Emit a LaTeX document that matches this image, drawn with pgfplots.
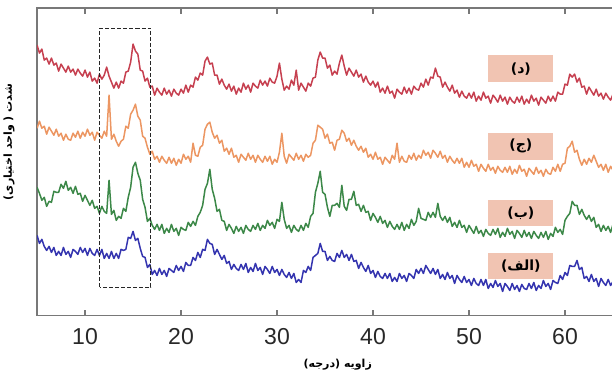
\documentclass[border=0pt]{standalone}
\usepackage{pgfplots}
\usepackage{pgfplotstable}
\pgfplotsset{compat=1.18}
\usepackage{fontspec}
\setmainfont{Liberation Sans}
\newfontfamily\arabicfont[Script=Arabic]{DejaVu Sans}
\TeXXeTstate=1
\definecolor{cred}{RGB}{198,64,80}
\definecolor{corange}{RGB}{236,150,98}
\definecolor{cgreen}{RGB}{60,136,72}
\definecolor{cblue}{RGB}{52,52,175}
\definecolor{boxpink}{RGB}{241,196,178}
\definecolor{axgray}{RGB}{120,120,120}
\definecolor{txtgray}{RGB}{40,40,40}

\pgfplotstableread{
x r o g b
5.00 270 187 128 80
5.25 262 194 122 72
5.50 266 187 115 76
5.75 255 189 118 69
6.00 257 181 109 65
6.25 251 188 114 69
6.50 257 184 113 63
6.75 250 180 124 68
7.00 252 186 123 60
7.25 244 179 123 64
7.50 251 182 131 60
7.75 247 175 127 68
8.00 243 181 134 61
8.25 249 176 125 64
8.50 243 175 128 58
8.75 246 182 122 66
9.00 240 178 129 64
9.25 246 184 121 61
9.50 242 177 122 68
9.75 239 183 114 63
10.00 245 179 120 67
10.25 238 186 115 60
10.50 243 180 110 67
10.75 234 183 115 62
11.00 237 175 107 60
11.25 232 183 109 66
11.50 241 180 102 60
11.75 236 177 109 66
12.00 240 184 104 57
12.25 248 179 102 62
12.50 239 220 135 57
12.75 233 176 101 64
13.00 227 181 105 57
13.25 233 174 95 62
13.50 227 169 99 57
13.75 234 174 97 66
14.00 232 176 107 65
14.25 243 189 104 66
14.50 244 187 118 78
14.75 253 201 128 77
15.00 271 205 148 84
15.25 264 211 153 75
15.50 261 199 142 77
15.75 245 195 135 67
16.00 244 179 116 59
16.25 234 177 108 58
16.50 237 168 94 48
16.75 228 161 97 51
17.00 229 164 90 41
17.25 220 156 86 45
17.50 227 159 91 40
17.75 223 153 85 47
18.00 220 159 91 41
18.25 227 155 82 45
18.50 221 152 87 39
18.75 225 158 83 47
19.00 219 152 91 45
19.25 226 157 84 43
19.50 222 150 87 50
19.75 220 156 80 45
20.00 226 152 88 49
20.25 222 161 86 44
20.50 230 156 85 53
20.75 223 159 93 50
21.00 230 153 89 50
21.25 228 172 94 58
21.50 238 160 90 55
21.75 235 159 99 63
22.00 242 168 103 58
22.25 240 170 110 66
22.50 254 186 126 65
22.75 258 191 132 76
23.00 251 193 146 72
23.25 252 183 126 71
23.50 240 177 117 61
23.75 240 180 104 66
24.00 231 172 106 61
24.25 236 175 95 56
24.50 230 164 94 60
24.75 226 167 85 52
25.00 231 161 91 54
25.25 224 167 87 46
25.50 229 158 82 51
25.75 221 160 89 47
26.00 227 153 84 45
26.25 223 161 88 51
26.50 232 158 82 46
26.75 226 155 90 52
27.00 230 162 86 43
27.25 223 156 84 48
27.50 232 160 90 44
27.75 229 153 86 52
28.00 227 160 92 45
28.25 235 156 85 48
28.50 230 153 90 41
28.75 234 159 87 49
29.00 229 154 95 46
29.25 237 159 90 42
29.50 233 151 93 49
29.75 232 156 87 43
30.00 239 153 96 46
30.25 252 163 94 40
30.50 236 182 113 46
30.75 225 159 96 41
31.00 229 152 87 38
31.25 226 161 90 43
31.50 235 158 83 37
31.75 230 155 90 42
32.00 245 162 86 33
32.25 225 156 84 36
32.50 232 160 90 33
32.75 228 154 85 45
33.00 224 161 92 43
33.25 232 158 88 49
33.50 229 160 99 45
33.75 237 172 102 58
34.00 238 175 123 60
34.25 255 190 132 62
34.50 263 188 144 72
34.75 257 186 123 64
35.00 257 177 121 64
35.25 247 181 108 55
35.50 250 172 99 59
35.75 240 173 110 55
36.00 244 165 110 54
36.25 241 175 112 62
36.50 252 176 108 58
36.75 260 185 130 65
37.00 249 182 109 58
37.25 240 174 105 61
37.50 247 177 116 55
37.75 243 170 116 61
38.00 239 175 124 54
38.25 245 169 110 55
38.50 238 165 111 47
38.75 241 169 104 53
39.00 233 163 110 48
39.25 239 167 103 44
39.50 233 158 104 50
39.75 230 161 95 42
40.00 234 156 102 45
40.25 228 163 98 38
40.50 233 156 93 44
40.75 223 158 99 39
41.00 227 151 92 37
41.25 222 158 95 42
41.50 229 155 88 37
41.75 222 152 94 42
42.00 224 160 89 34
42.25 217 156 86 38
42.50 226 172 91 34
42.75 223 153 86 42
43.00 221 159 93 37
43.25 228 154 85 40
43.50 222 153 91 34
43.75 227 160 87 42
44.00 221 156 96 40
44.25 229 162 90 37
44.50 226 155 94 46
44.75 225 160 107 42
45.00 232 157 97 47
45.25 228 165 96 42
45.50 236 160 95 50
45.75 230 163 103 46
46.00 238 157 98 42
46.25 237 165 103 47
46.50 247 162 98 41
46.75 239 158 112 46
47.00 238 164 99 37
47.25 228 157 95 41
47.50 233 160 99 36
47.75 228 153 93 43
48.00 224 159 98 37
48.25 230 155 89 40
48.50 222 152 93 32
48.75 225 157 88 40
49.00 218 152 95 36
49.25 224 157 88 33
49.50 219 148 90 39
49.75 217 153 83 33
50.00 222 148 90 36
50.25 217 155 86 30
50.50 223 149 82 37
50.75 214 151 89 32
51.00 219 144 82 30
51.25 215 151 85 36
51.50 223 147 79 30
51.75 217 144 86 36
52.00 219 151 82 27
52.25 212 145 80 32
52.50 220 148 86 28
52.75 217 142 81 35
53.00 213 149 87 29
53.25 220 145 78 32
53.50 214 143 83 24
53.75 218 148 79 32
54.00 211 143 87 29
54.25 218 149 81 25
54.50 214 141 84 32
54.75 212 146 77 26
55.00 218 142 85 30
55.25 213 150 82 24
55.50 219 144 78 31
55.75 211 146 85 27
56.00 216 139 79 26
56.25 212 147 83 32
56.50 220 144 77 27
56.75 214 141 84 33
57.00 217 148 80 25
57.25 210 142 77 30
57.50 218 145 83 27
57.75 215 139 78 35
58.00 212 146 84 29
58.25 219 142 76 32
58.50 214 141 82 26
58.75 219 148 79 35
59.00 214 144 88 33
59.25 223 151 83 32
59.50 221 144 86 40
59.75 221 151 81 36
60.00 231 152 95 43
60.25 230 167 99 40
60.50 241 169 102 50
60.75 238 174 114 49
61.00 241 163 110 49
61.25 233 165 110 55
61.50 237 156 101 46
61.75 228 150 106 48
62.00 229 156 100 37
62.25 221 151 96 39
62.50 228 157 100 34
62.75 224 153 94 41
63.00 220 160 98 34
63.25 226 154 88 37
63.50 219 148 91 29
63.75 222 151 84 37
64.00 216 145 90 33
64.25 222 151 85 30
64.50 218 143 89 36
64.75 215 149 83 30
65.00 221 145 91 34
}\xrd

\begin{document}
\begin{tikzpicture}
\path[use as bounding box] (-37bp,-59bp) rectangle (574bp,315bp);
\begin{axis}[
  scale only axis,
  width=575bp, height=307bp,
  xmin=5, xmax=65, ymin=0, ymax=307,
  xtick={10,20,30,40,50,60},
  ytick=\empty,
  tick align=inside,
  major tick length=6bp,
  axis line style={draw=axgray, line width=1.6bp},
  every tick/.style={draw=axgray, line width=1.2bp},
  /pgf/number format/assume math mode=true,
  xticklabel style={font=\fontsize{23bp}{27bp}\selectfont, text=txtgray, inner sep=0pt, anchor=north, yshift=-13bp},
  xlabel={\arabicfont\bfseries\beginR زاویه (درجه)\endR},
  x label style={at={(rel axis cs:0.522,0)}, anchor=center, yshift=-49bp, font=\fontsize{11bp}{13bp}\selectfont, text=black},
  ylabel={\arabicfont\bfseries\beginR شدت ( واحد اختیاری)\endR},
  y label style={at={(rel axis cs:0,0.564)}, anchor=center, yshift=28bp, font=\fontsize{11bp}{13bp}\selectfont, text=black},
]
\addplot[cred, line width=1.5bp, line join=round] table[x=x, y=r] {\xrd};
\addplot[corange, line width=1.5bp, line join=round] table[x=x, y=o] {\xrd};
\addplot[cgreen, line width=1.5bp, line join=round] table[x=x, y=g] {\xrd};
\addplot[cblue, line width=1.5bp, line join=round] table[x=x, y=b] {\xrd};
\draw[black!85, line width=1.1bp, dash pattern=on 4bp off 2bp] (axis cs:11.54,28.3) rectangle (axis cs:16.86,286.7);
\node[fill=boxpink, minimum width=65bp, minimum height=27bp, inner sep=0pt] at (axis cs:55.4,246.5) {\arabicfont\bfseries\fontsize{14bp}{16bp}\selectfont\beginR(د)\endR};
\node[fill=boxpink, minimum width=65bp, minimum height=27bp, inner sep=0pt] at (axis cs:55.4,169) {\arabicfont\bfseries\fontsize{14bp}{16bp}\selectfont\beginR(ج)\endR};
\node[fill=boxpink, minimum width=65bp, minimum height=26bp, inner sep=0pt] at (axis cs:55.4,102.5) {\arabicfont\bfseries\fontsize{14bp}{16bp}\selectfont\beginR(ب)\endR};
\node[fill=boxpink, minimum width=65bp, minimum height=26bp, inner sep=0pt] at (axis cs:55.4,49.5) {\arabicfont\bfseries\fontsize{14bp}{16bp}\selectfont\beginR(الف)\endR};
\end{axis}
\end{tikzpicture}
\end{document}
